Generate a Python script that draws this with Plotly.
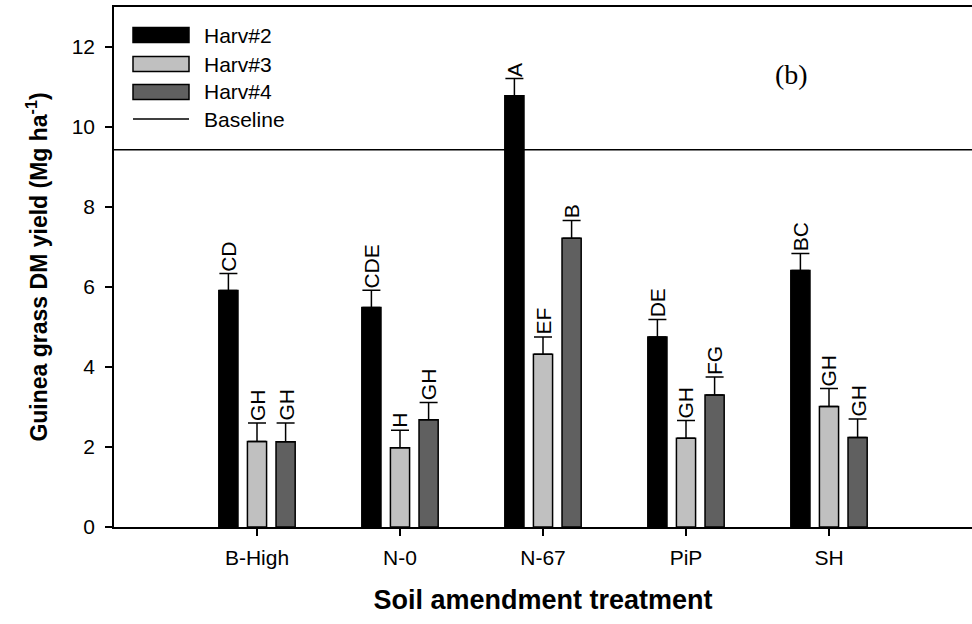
import plotly.graph_objects as go

categories = ["B-High", "N-0", "N-67", "PiP", "SH"]
series_names = ["Harv#2", "Harv#3", "Harv#4"]
harv2 = [5.91, 5.49, 10.78, 4.75, 6.41]
harv3 = [2.14, 1.98, 4.32, 2.22, 3.01]
harv4 = [2.13, 2.68, 7.22, 3.30, 2.24]
err2 = [0.43, 0.43, 0.43, 0.44, 0.43]
err3 = [0.46, 0.44, 0.43, 0.44, 0.45]
err4 = [0.47, 0.43, 0.44, 0.45, 0.46]
letters2 = ["CD", "CDE", "A", "DE", "BC"]
letters3 = ["GH", "H", "EF", "GH", "GH"]
letters4 = ["GH", "GH", "B", "FG", "GH"]
baseline = 9.43
y_ticks = [0, 2, 4, 6, 8, 10, 12]

colors = ["#000000", "#c0c0c0", "#606060"]
values = [harv2, harv3, harv4]
errors = [err2, err3, err4]
letters = [letters2, letters3, letters4]
offsets = [-0.2, 0.0, 0.2]

W, H = 972, 624
ML, MR, MT, MB = 114, 0, 7, 97
PW, PH = W - ML - MR, H - MT - MB
FONT = "Liberation Sans, Arial"

def px(xp):
    return (xp - ML) / PW

def py(yp):
    return 1 - (yp - MT) / PH

fig = go.Figure()
for name, vals, errs, col in zip(series_names, values, errors, colors):
    fig.add_trace(go.Bar(
        x=categories, y=vals, name=name,
        marker=dict(color=col, line=dict(color="#000000", width=1.5)),
        error_y=dict(type="data", array=errs, symmetric=False, arrayminus=[0]*len(errs),
                     color="#000000", thickness=1.5, width=9),
        showlegend=False,
    ))

annotations = []
for vals, errs, labs, off in zip(values, errors, letters, offsets):
    for i, (v, e, t) in enumerate(zip(vals, errs, labs)):
        annotations.append(dict(
            x=i + off, y=v + e, xref="x", yref="y", text=t, showarrow=False,
            textangle=-90, yanchor="bottom", xanchor="center", yshift=0,
            font=dict(family=FONT, size=21, color="#000"),
        ))

shapes = [dict(type="line", xref="paper", yref="y", x0=0, x1=1, y0=baseline, y1=baseline,
               line=dict(color="#000", width=1.5))]

# custom legend
leg_rows = [35, 64, 92, 119]
for k, (name, col) in enumerate(zip(series_names, colors)):
    yc = leg_rows[k]
    shapes.append(dict(type="rect", xref="paper", yref="paper",
                       x0=px(133), x1=px(189), y0=py(yc - 7.5), y1=py(yc + 7.5),
                       fillcolor=col, line=dict(color="#000", width=1.5)))
    annotations.append(dict(x=px(202), y=py(yc), xref="paper", yref="paper", text=name,
                            showarrow=False, xanchor="left", yanchor="middle",
                            font=dict(family=FONT, size=21, color="#000")))
shapes.append(dict(type="line", xref="paper", yref="paper", x0=px(133), x1=px(189),
                   y0=py(leg_rows[3]), y1=py(leg_rows[3]), line=dict(color="#000", width=1.5)))
annotations.append(dict(x=px(202), y=py(leg_rows[3]), xref="paper", yref="paper", text="Baseline",
                        showarrow=False, xanchor="left", yanchor="middle",
                        font=dict(family=FONT, size=21, color="#000")))
annotations.append(dict(x=px(791), y=py(75), xref="paper", yref="paper", text="(b)",
                        showarrow=False, xanchor="center", yanchor="middle",
                        font=dict(family="Liberation Serif, Times New Roman", size=28, color="#000")))

fig.update_layout(
    width=W, height=H, margin=dict(l=ML, r=MR, t=MT, b=MB),
    paper_bgcolor="white", plot_bgcolor="white",
    barmode="group", bargap=0.4, bargroupgap=0.33,
    annotations=annotations, shapes=shapes,
    font=dict(family=FONT, color="#000"),
)
fig.update_xaxes(
    type="category", range=[-1, 5], showline=True, linecolor="#000", linewidth=1.5, mirror=True,
    ticks="outside", ticklen=7, tickwidth=1.5, tickcolor="#000", showgrid=False,
    tickfont=dict(size=21), ticklabelstandoff=4,
    title=dict(text="<b>Soil amendment treatment</b>", font=dict(size=27), standoff=22),
)
fig.update_yaxes(
    range=[0, 13], tickvals=y_ticks, showline=True, linecolor="#000", linewidth=1.5, mirror=False,
    ticks="outside", ticklen=7, tickwidth=1.5, tickcolor="#000", showgrid=False, zeroline=False,
    tickfont=dict(size=21), ticklabelstandoff=6,
    title=dict(text="<b>Guinea grass DM yield (Mg ha<sup>-1</sup>)</b>", font=dict(size=23), standoff=18),
)
fig.write_html("out.html")
